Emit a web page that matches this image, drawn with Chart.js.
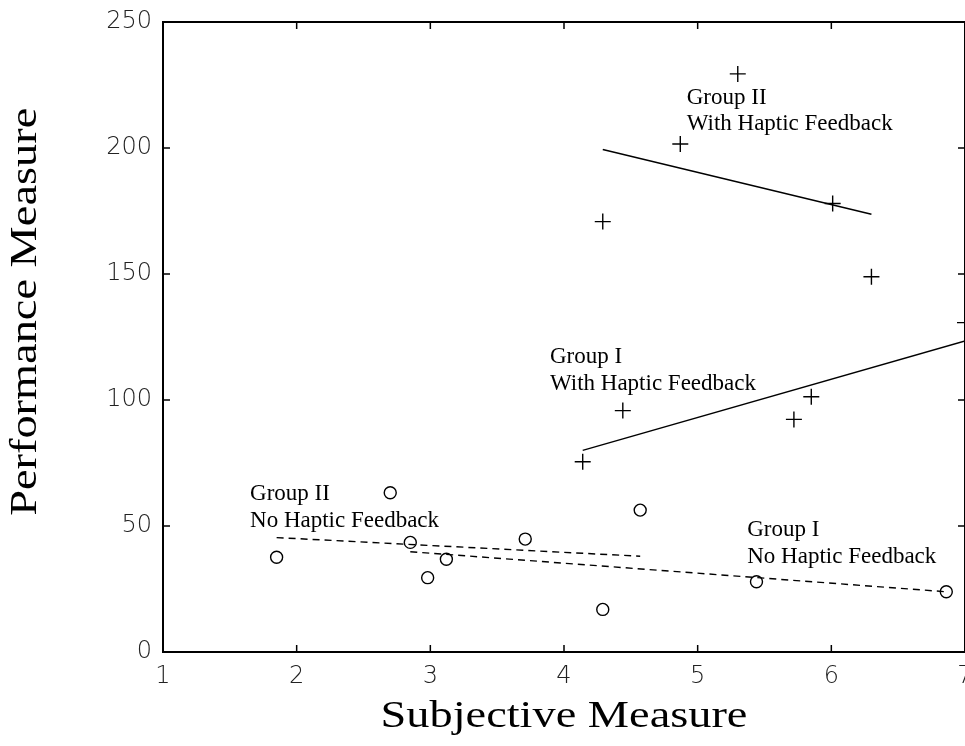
<!DOCTYPE html>
<html>
<head>
<meta charset="utf-8">
<script src="https://cdn.jsdelivr.net/npm/chart.js@4/dist/chart.umd.min.js"></script>
<style>
  html, body { margin: 0; padding: 0; background: #fff; overflow: hidden; }
  #wrap { width: 965px; height: 746px; }
</style>
</head>
<body>
<div id="wrap"><canvas id="c" width="965" height="746"></canvas></div>
<script>
// Axis ticks
const xTicks = [1, 2, 3, 4, 5, 6, 7];
const yTicks = [0, 50, 100, 150, 200, 250];

// Group I, with haptic feedback (+)
const g1HapticX = [4.14, 4.44, 5.72, 5.85, 7.00];
const g1HapticY = [75.5, 95.8, 92.3, 101.3, 130.7];
// Group II, with haptic feedback (+)
const g2HapticX = [4.29, 4.87, 5.30, 6.01, 6.30];
const g2HapticY = [170.8, 201.6, 229.4, 178.0, 148.9];
// Group I, no haptic feedback (o)
const g1NoHapticX = [2.85, 2.98, 3.71, 5.44, 6.86];
const g1NoHapticY = [43.5, 29.5, 44.8, 27.9, 23.9];
// Group II, no haptic feedback (o)
const g2NoHapticX = [1.85, 2.70, 3.12, 4.29, 4.57];
const g2NoHapticY = [37.6, 63.2, 36.8, 16.9, 56.3];

// Fitted trend lines (end points)
const g1HapticFitX = [4.14, 7.00];
const g1HapticFitY = [80.0, 123.4];
const g2HapticFitX = [4.29, 6.30];
const g2HapticFitY = [199.4, 173.7];
const g1NoHapticFitX = [2.85, 6.86];
const g1NoHapticFitY = [39.8, 23.9];
const g2NoHapticFitX = [1.85, 4.57];
const g2NoHapticFitY = [45.4, 38.0];

// Group captions, placed in data units (left edge, first baseline)
const noteText = [
  ["Group II", "With Haptic Feedback"],
  ["Group I", "With Haptic Feedback"],
  ["Group II", "No Haptic Feedback"],
  ["Group I", "No Haptic Feedback"]
];
const noteX = [4.918, 3.895, 1.651, 5.371];
const noteY = [217.5, 114.6, 60.3, 46.0];

const xTitle = "Subjective Measure";
const yTitle = "Performance Measure";

const SERIF = '"Liberation Serif", "Times New Roman", Times, serif';
const SANS = '"DejaVu Sans", "Liberation Sans", Arial, sans-serif';

const pts = (xs, ys) => xs.map((v, i) => ({ x: v, y: ys[i] }));

const markerSet = (xs, ys, style, r) => ({
  data: pts(xs, ys),
  showLine: false,
  pointStyle: style,
  pointRadius: r,
  pointHoverRadius: r,
  borderColor: '#000',
  backgroundColor: 'rgba(0,0,0,0)',
  pointBorderWidth: 1.4,
  borderWidth: 1.4
});

const fitSet = (xs, ys, dash) => ({
  data: pts(xs, ys),
  showLine: true,
  pointRadius: 0,
  pointHoverRadius: 0,
  borderColor: '#000',
  borderWidth: 1.4,
  borderDash: dash,
  fill: false
});

// Box, inward tick marks, captions and axis titles
const framePlugin = {
  id: 'frame',
  afterDraw(chart) {
    const { ctx, chartArea: a, scales: { x, y } } = chart;
    ctx.save();
    ctx.strokeStyle = '#000';
    ctx.lineWidth = 2;
    ctx.strokeRect(a.left, a.top, a.right - a.left, a.bottom - a.top);

    const L = 7;
    ctx.lineWidth = 1.5;
    ctx.beginPath();
    x.ticks.forEach(t => {
      const px = x.getPixelForValue(t.value);
      if (px <= a.left + 1 || px >= a.right - 1) return;
      ctx.moveTo(px, a.bottom); ctx.lineTo(px, a.bottom - L);
      ctx.moveTo(px, a.top); ctx.lineTo(px, a.top + L);
    });
    y.ticks.forEach(t => {
      const py = y.getPixelForValue(t.value);
      if (py >= a.bottom - 1 || py <= a.top + 1) return;
      ctx.moveTo(a.left, py); ctx.lineTo(a.left + L, py);
      ctx.moveTo(a.right, py); ctx.lineTo(a.right - L, py);
    });
    ctx.stroke();

    ctx.fillStyle = '#000';
    ctx.textAlign = 'left';
    ctx.textBaseline = 'alphabetic';
    ctx.font = '23px ' + SERIF;
    noteText.forEach((lines, i) => {
      const px = x.getPixelForValue(noteX[i]);
      const py = y.getPixelForValue(noteY[i]);
      lines.forEach((s, j) => ctx.fillText(s, px, py + j * 26.5));
    });

    ctx.font = '38px ' + SERIF;
    ctx.textAlign = 'center';
    ctx.save();
    ctx.translate((a.left + a.right) / 2, 727);
    ctx.scale(1.22, 1);
    ctx.fillText(xTitle, 0, 0);
    ctx.restore();

    ctx.save();
    ctx.translate(36, a.top + 0.46 * (a.bottom - a.top));
    ctx.rotate(-Math.PI / 2);
    ctx.scale(1.22, 1);
    ctx.fillText(yTitle, 0, 0);
    ctx.restore();

    ctx.restore();
  }
};

new Chart(document.getElementById('c'), {
  type: 'scatter',
  data: {
    datasets: [
      markerSet(g1HapticX, g1HapticY, 'cross', 8),
      markerSet(g2HapticX, g2HapticY, 'cross', 8),
      markerSet(g1NoHapticX, g1NoHapticY, 'circle', 6),
      markerSet(g2NoHapticX, g2NoHapticY, 'circle', 6),
      fitSet(g1HapticFitX, g1HapticFitY, []),
      fitSet(g2HapticFitX, g2HapticFitY, []),
      fitSet(g1NoHapticFitX, g1NoHapticFitY, [7, 5]),
      fitSet(g2NoHapticFitX, g2NoHapticFitY, [7, 5])
    ]
  },
  options: {
    responsive: false,
    devicePixelRatio: 1,
    animation: false,
    layout: { padding: { top: 22, right: 0, bottom: 0, left: 0 }, autoPadding: false },
    plugins: { legend: { display: false }, tooltip: { enabled: false } },
    scales: {
      x: {
        type: 'linear',
        min: xTicks[0],
        max: xTicks[xTicks.length - 1],
        afterBuildTicks: s => { s.ticks = xTicks.map(v => ({ value: v })); },
        afterFit: s => { s.height = 94; s.paddingLeft = 0; s.paddingRight = 0; },
        grid: { display: false, drawTicks: false },
        border: { display: false },
        ticks: { color: '#222', padding: 10, font: { family: SANS, size: 24, weight: 200 } }
      },
      y: {
        type: 'linear',
        min: yTicks[0],
        max: yTicks[yTicks.length - 1],
        afterBuildTicks: s => { s.ticks = yTicks.map(v => ({ value: v })); },
        afterFit: s => { s.width = 163; s.paddingTop = 0; s.paddingBottom = 0; },
        grid: { display: false, drawTicks: false },
        border: { display: false },
        ticks: { color: '#222', padding: 11, font: { family: SANS, size: 24, weight: 200 } }
      }
    }
  },
  plugins: [framePlugin]
});
</script>
</body>
</html>
